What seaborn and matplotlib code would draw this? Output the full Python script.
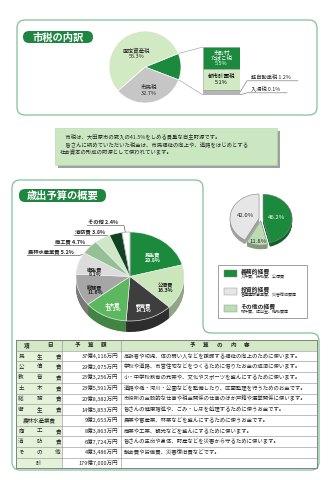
import numpy as np
import matplotlib
matplotlib.use("Agg")
import matplotlib.pyplot as plt
import matplotlib.colors as mcolors
import seaborn as sns
from matplotlib.patches import FancyBboxPatch, Rectangle, PathPatch
from matplotlib.path import Path

sns.set_theme(style="white")
plt.rcParams['font.family'] = ['Noto Sans CJK JP', 'DejaVu Sans']

# ---- データ ----
# 市税の内訳
tax_main_names = ['その他', '市民税', '固定資産税']
tax_main_pct = [32.7, 55.3]          # 市民税, 固定資産税
tax_sub_names = ['市町村\nたばこ税', '都市計画税', '軽自動車税', '入湯税']
tax_sub_pct = [5.5, 5.1, 1.2, 0.1]

# 歳出予算の概要
exp_names = ['民生費', '公債費', '教育費', '土木費', '総務費', '衛生費',
             '農林水産業費', '商工費', '消防費', 'その他']
exp_pct = [20.8, 16.3, 14.1, 13.1, 11.6, 8.1, 5.2, 4.7, 3.8, 2.4]

# 性質別
nat_names = ['義務的経費', 'その他の経費', '投資的経費']
nat_pct = [46.2, 11.8, 42.0]
nat_notes = ['人件費、扶助費、公債費', '物件費、繰出金、補助費等', '普通建設事業費、災害復旧費等']

# 表
tbl_items = ['民生費', '公債費', '教育費', '土木費', '総務費', '衛生費',
             '農林水産業費', '商工費', '消防費', 'その他']
tbl_amounts = ['37億4,116万円', '29億2,075万円', '25億3,256万円', '23億5,591万円',
               '20億8,382万円', '14億5,853万円', '9億2,653万円', '8億3,863万円',
               '6億7,724万円', '4億3,486万円']
tbl_contents = [
    '高齢者や幼児、体の弱い人などを援護する福祉の向上のために使います。',
    '学校や道路、市営住宅などをつくるために借りたお金の返済に使います。',
    '小・中学校教育の充実や、文化やスポーツを盛んにするために使います。',
    '道路や橋・河川・公園などを整備したり、区画整理を行うためのお金です。',
    '市役所の全般的な仕事や税金関係の仕事のほか戸籍や選挙関係に使います。',
    '皆さんの健康増進や、ごみ・し尿を処理するために使うお金です。',
    '農業や畜産業、林業などを盛んにするために使うお金です。',
    '商業や工業、観光などを盛んにするために使います。',
    '皆さんの生命や身体、財産などを災害から守るために使います。',
    '議会費や労働費、災害復旧費などです。',
]
tbl_total = '179億7,000万円'

note_lines = ['　市税は、大田原市の歳入の41.5%をしめる貴重な自主財源です。',
              '　皆さんに納めていただいた税金は、市民福祉の向上や、道路をはじめとする',
              '社会資本の形成の財源として使われています。']

# ---- 色 ----
dk_green = '#1b8a3c'
lt_green = '#d2eac4'
border = '#7fc394'
pill = '#1e8640'

W, H = 331, 480
fig = plt.figure(figsize=(W / 100, H / 100), dpi=100)
bg = fig.add_axes([0, 0, 1, 1])
bg.set_xlim(0, W)
bg.set_ylim(H, 0)
bg.axis('off')


def px_axes(x0, y0, w, h):
    return fig.add_axes([x0 / W, 1 - (y0 + h) / H, w / W, h / H])


def rounded_path(pts, r):
    verts, codes = [], []
    n = len(pts)
    for i in range(n):
        p0 = np.array(pts[i - 1], float)
        p1 = np.array(pts[i], float)
        p2 = np.array(pts[(i + 1) % n], float)
        d0 = (p1 - p0) / np.linalg.norm(p1 - p0)
        d1 = (p2 - p1) / np.linalg.norm(p2 - p1)
        verts.append(p1 - d0 * r)
        codes.append(Path.MOVETO if i == 0 else Path.LINETO)
        verts += [p1, p1 + d1 * r]
        codes += [Path.CURVE3, Path.CURVE3]
    verts.append(verts[0])
    codes.append(Path.CLOSEPOLY)
    return Path(verts, codes)


def darken(c, f=0.72):
    return tuple(np.array(mcolors.to_rgb(c)) * f)


# ---- 枠 ----
bg.add_patch(PathPatch(rounded_path([(17, 20), (317, 20), (317, 115), (17, 115)], 8),
                       fc='white', ec=border, lw=0.9))
bg.add_patch(PathPatch(rounded_path([(12, 180), (203, 180), (203, 333), (319, 333),
                                     (319, 470), (12, 470)], 8),
                       fc='none', ec=border, lw=0.9))

for (x, y, w, h, t) in [(23, 31, 70, 12, '市税の内訳'), (19, 189, 87, 13, '歳出予算の概要')]:
    bg.add_patch(FancyBboxPatch((x, y), w, h, boxstyle='round,pad=0,rounding_size=6',
                                fc=pill, ec='none'))
    bg.text(x + w / 2, y + h / 2 + 0.3, t, color='white', size=7.4, weight='bold',
            ha='center', va='center')

# ---- 市税の内訳 円グラフ ----
cx1, cy1, r1 = 145, 67, 36
ax1 = px_axes(cx1 - r1, cy1 - r1, 2 * r1, 2 * r1)
pie1_vals = [sum(tax_sub_pct)] + tax_main_pct
w1, _ = ax1.pie(pie1_vals, colors=[dk_green, '#c6c6c6', lt_green], startangle=22,
                counterclock=False, wedgeprops=dict(linewidth=0.5, edgecolor='white'))
ax1.set_xlim(-1, 1)
ax1.set_ylim(-1, 1)
for i, rr in [(1, 0.66), (2, 0.45)]:
    ang = np.deg2rad((w1[i].theta1 + w1[i].theta2) / 2)
    ax1.text(rr * np.cos(ang), rr * np.sin(ang),
             f'{tax_main_names[i]}\n{pie1_vals[i]:.1f}%', size=4, ha='center',
             va='center', linespacing=1.1)

# 内訳ボックス
bx, by, bw, bh = 203, 47, 37, 48
for th, ty in [(w1[0].theta2, by), (w1[0].theta1, by + bh)]:
    a = np.deg2rad(th)
    bg.plot([cx1 + r1 * np.cos(a), bx], [cy1 - r1 * np.sin(a), ty], color='#aaaaaa', lw=0.5)

ax2 = px_axes(bx, by, bw, bh)
sub_total = sum(tax_sub_pct)
sub_colors = [dk_green, lt_green, '#b4b4b4', '#8a8a8a']
bottoms = np.cumsum([0] + tax_sub_pct[:-1])
ax2.bar([0] * 4, tax_sub_pct, bottom=bottoms, width=1, color=sub_colors,
        edgecolor='#9a9a9a', linewidth=0.4)
ax2.set_xlim(-0.5, 0.5)
ax2.set_ylim(sub_total, 0)
ax2.axis('off')
for i in range(2):
    ax2.text(0, bottoms[i] + tax_sub_pct[i] / 2, f'{tax_sub_names[i]}\n{tax_sub_pct[i]}%',
             size=4, ha='center', va='center', linespacing=1.05,
             color='white' if i == 0 else 'black')
for i, (ty, lx) in zip([2, 3], [(77, 298), (89, 287)]):
    seg_y = by + bh * (bottoms[i] + tax_sub_pct[i] / 2) / sub_total
    bg.plot([bx + bw, 247, lx], [seg_y, ty + 3.8, ty + 3.8], color='#777777', lw=0.45)
    bg.text(251, ty, f'{tax_sub_names[i]} {tax_sub_pct[i]}%', size=3.8, va='center')

# ---- 説明ボックス ----
bg.add_patch(Rectangle((57.5, 130.5), 222, 37, fc='#a0a0a0', ec='none'))
bg.add_patch(Rectangle((55, 128), 222, 37, fc='#cbe7c2', ec='#b3d6a8', lw=0.4))
for k, line in enumerate(note_lines):
    bg.text(60, 137.5 + k * 7.5, line, size=3.85, va='center')

# ---- 歳出 3D円グラフ ----
exp_colors = ['#1b8a3c', '#cbe6bb', '#3e3e3e', '#5cb85e', '#a6a6a6', '#dcdcdc',
              '#95bf95', '#cfe7c6', '#0f4322', '#ffffff']
ex0, ey0, ew, eh = 76, 232, 108, 100
ry = 44.5
depth = eh / ry - 2
ax3 = px_axes(ex0, ey0, ew, eh)
side_cols = [darken(c) for c in exp_colors]
side_cols[-1] = '#cfcfcf'
for off in np.linspace(depth, 0.01, 14):
    ax3.pie(exp_pct, colors=side_cols, startangle=90, counterclock=False,
            center=(0, -off), wedgeprops=dict(linewidth=0))
w3, _ = ax3.pie(exp_pct, colors=exp_colors, startangle=90, counterclock=False,
                wedgeprops=dict(linewidth=0.45, edgecolor='#f4f4f4'))
w3[-1].set_edgecolor('#9a9a9a')
ax3.set_aspect('auto')
ax3.set_xlim(-1, 1)
ax3.set_ylim(-1 - depth, 1)
white_txt = {'民生費', '教育費', '土木費'}
for i in range(6):
    ang = np.deg2rad((w3[i].theta1 + w3[i].theta2) / 2)
    ax3.text(0.68 * np.cos(ang), 0.66 * np.sin(ang) - 0.1, f'{exp_names[i]}\n{exp_pct[i]}%',
             size=3.7, ha='center', va='center', linespacing=1.05, weight='bold',
             color='white' if exp_names[i] in white_txt else '#222222')

ecx, ecy = ex0 + ew / 2, ey0 + ry
label_pos = {6: (28, 252, 79), 7: (55, 242, 98), 8: (75, 232, 111), 9: (88, 222, 124)}
for i, (tx, ty, ux) in label_pos.items():
    ang = np.deg2rad((w3[i].theta1 + w3[i].theta2) / 2)
    px = ecx + 0.88 * (ew / 2) * np.cos(ang)
    py = ecy - 0.88 * ry * np.sin(ang)
    bg.text(tx, ty, f'{exp_names[i]} {exp_pct[i]}%', size=3.8, weight='bold', va='center')
    bg.plot([tx - 1, ux, px], [ty + 3.6, ty + 3.6, py], color='#555555', lw=0.45)

# ---- 性質別 円グラフ ----
nat_colors = [dk_green, '#bcdcb2', '#e6e6e6']
sx0, sy0, sw, sh = 229, 192, 64, 58
sry = 24.5
sdepth = sh / sry - 2.2
ax4 = px_axes(sx0, sy0, sw, sh)
for off in np.linspace(sdepth, 0.01, 6):
    ax4.pie(nat_pct, colors=[darken(c, 0.7) for c in nat_colors], startangle=90,
            counterclock=False, explode=[0.07] * 3, center=(0, -off),
            wedgeprops=dict(linewidth=0))
w4, _ = ax4.pie(nat_pct, colors=nat_colors, startangle=90, counterclock=False,
                explode=[0.07] * 3, wedgeprops=dict(linewidth=0.4, edgecolor='#8a8a8a'))
ax4.set_aspect('auto')
ax4.set_xlim(-1.1, 1.1)
ax4.set_ylim(-1.1 - sdepth, 1.1)
for i, rr in [(0, 0.55), (1, 0.85), (2, 0.55)]:
    ang = np.deg2rad((w4[i].theta1 + w4[i].theta2) / 2)
    ax4.text(rr * np.cos(ang), rr * np.sin(ang) + (0.07 * np.sin(ang)), f'{nat_pct[i]}%',
             size=4.3, ha='center', va='center',
             color='white' if i == 0 else '#222222')

# 凡例
bg.add_patch(Rectangle((218, 265), 89, 53, fc='white', ec='#7a7a7a', lw=0.5))
for k, i in enumerate([0, 2, 1]):
    yy = 270 + k * 17.5
    bg.add_patch(Rectangle((224, yy), 13, 7, fc=nat_colors[i], ec='#8a8a8a', lw=0.3))
    bg.text(241, yy + 2, nat_names[i], size=4.2, weight='bold', va='center')
    bg.text(241, yy + 7.3, nat_notes[i], size=2.9, va='center')

# ---- 表 ----
cols = [16, 62, 121, 317]
t_top, row_h = 340, 10.7
n_rows = len(tbl_items) + 2
grid = '#8c8c8c'

# 背景
bg.add_patch(Rectangle((cols[0], t_top), cols[3] - cols[0], row_h, fc='#d4eac6', ec='none'))
bg.add_patch(Rectangle((cols[0], t_top + row_h), cols[1] - cols[0], row_h * (n_rows - 1),
                       fc='#e4f2da', ec='none'))
for r in range(n_rows + 1):
    bg.plot([cols[0], cols[3]], [t_top + r * row_h] * 2, color=grid, lw=0.4)
for c in cols:
    bg.plot([c, c], [t_top, t_top + n_rows * row_h], color=grid, lw=0.4)
bg.add_patch(Rectangle((cols[0], t_top), cols[3] - cols[0], n_rows * row_h, fc='none',
                       ec='#6a6a6a', lw=0.6))


def spread(text, x0, x1, yc, size=4, weight='normal'):
    n = len(text)
    xs = np.linspace(x0, x1, n)
    for ch, xx in zip(text, xs):
        bg.text(xx, yc, ch, size=size, ha='center', va='center', weight=weight)


hy = t_top + row_h / 2
spread('項目', 27, 50, hy, weight='bold')
spread('予算額', 77, 104, hy, weight='bold')
spread('予算の内容', 192, 247, hy, weight='bold')

for r, (it, am, ct) in enumerate(zip(tbl_items, tbl_amounts, tbl_contents), start=1):
    yc = t_top + r * row_h + row_h / 2
    if len(it) == 3:
        spread(it, 21, 58, yc)
    else:
        bg.text((cols[0] + cols[1]) / 2, yc, it, size=4, ha='center', va='center')
    bg.text(118, yc, am, size=4, ha='right', va='center')
    bg.text(124, yc, ct, size=3.85, ha='left', va='center')

yc = t_top + (n_rows - 1) * row_h + row_h / 2
bg.text((cols[0] + cols[1]) / 2, yc, '計', size=4, ha='center', va='center')
bg.text(118, yc, tbl_total, size=4, ha='right', va='center')

fig.savefig('out.png', dpi=100)
